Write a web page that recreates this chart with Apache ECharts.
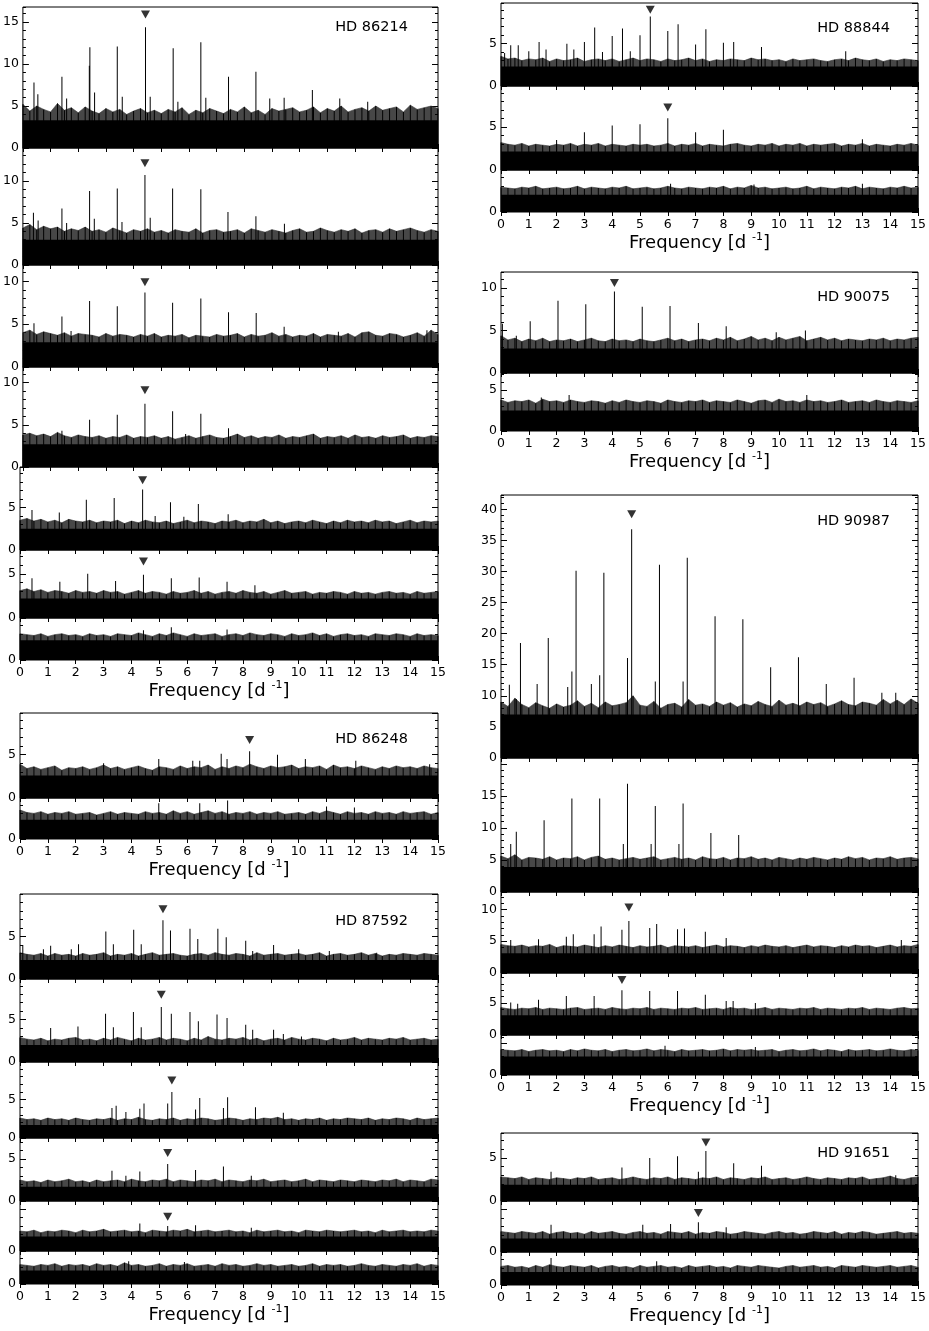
<!DOCTYPE html>
<html><head><meta charset="utf-8">
<script src="https://cdn.jsdelivr.net/npm/echarts@6/dist/echarts.min.js"></script>
<style>html,body{margin:0;padding:0;background:#fff}#c{width:929px;height:1331px}</style>
</head><body><div id="c"></div>
<script>
// ---------- data ----------
const FREQ_MIN = 0, FREQ_MAX = 15, NOISE_STEP = 0.25;
const STARS = ['HD 86214','HD 86248','HD 87592','HD 88844','HD 90075','HD 90987','HD 91651'];
const AXIS_TITLE = 'Frequency [d ';
const AXIS_TITLE_SUP = '-1';

// y-axis maxima per panel
const yMax86214 = [16.8, 13.9, 11.9, 11.85, 9.75, 7.7, 4.8];
const yMax86248 = [9.8, 4.8];
const yMax87592 = [10.0, 9.8, 9.9, 7.5, 6.0, 3.9];
const yMax88844 = [9.8, 9.8, 4.9];
const yMax90075 = [11.9, 7.1];
const yMax90987 = [42.3, 20.9, 12.75, 9.7, 6.3];
const yMax91651 = [7.9, 6.0, 3.9];

// solid noise floor per panel
const floor86214 = [3.3, 3.0, 2.9, 2.7, 2.5, 2.2, 2.25];
const floor86248 = [2.6, 2.25];
const floor87592 = [2.25, 2.0, 1.7, 1.7, 1.75, 1.6];
const floor88844 = [2.3, 2.15, 2.0];
const floor90075 = [2.9, 2.5];
const floor90987 = [7.0, 3.9, 3.1, 3.1, 2.9];
const floor91651 = [1.9, 1.6, 1.55];

// noise spike tops sampled every 0.25 d^-1
const noiseA1=[5.2,4.4,5.0,4.6,4.3,5.3,4.5,4.8,4.2,4.9,4.4,4.1,4.7,4.3,4.6,4.0,4.4,4.7,4.2,4.5,4.1,4.6,4.3,4.8,4.0,4.5,4.2,4.7,4.4,4.1,4.6,4.3,4.9,4.2,4.5,4.0,4.7,4.4,4.6,4.8,4.3,4.5,4.9,4.2,4.7,4.4,5.0,4.3,4.6,4.8,4.4,5.0,4.5,4.7,4.9,4.3,5.1,4.6,4.8,5.0,4.7];
const noiseA2=[4.4,4.8,4.2,4.6,4.3,4.5,4.0,4.3,4.1,4.5,4.0,4.2,3.9,4.4,4.1,3.8,4.2,4.0,4.3,3.9,4.1,3.8,4.2,4.0,3.9,4.3,3.8,4.1,4.2,3.9,4.0,4.2,3.8,4.3,4.1,3.9,4.2,4.0,3.8,4.1,4.3,3.9,4.0,4.4,4.1,3.9,4.2,4.0,4.3,3.8,4.1,4.2,3.9,4.3,4.0,4.2,4.4,4.1,3.9,4.2,4.0];
const noiseA3=[4.0,4.3,3.8,4.1,3.9,3.7,4.0,3.6,3.9,3.8,3.7,3.5,3.9,3.6,3.8,3.7,3.5,3.8,3.6,3.9,3.5,3.7,3.6,3.8,3.4,3.7,3.6,3.5,3.8,3.6,3.7,3.9,3.5,3.8,3.6,3.7,4.0,3.6,3.8,3.5,3.7,3.6,3.9,3.5,3.8,3.7,3.6,3.9,3.5,4.0,4.1,3.7,3.6,3.9,3.8,3.5,3.7,4.0,3.6,4.3,3.8];
const noiseA4=[3.8,4.0,3.7,3.9,3.6,4.1,3.7,3.5,3.8,3.6,3.5,3.7,3.4,3.6,3.5,3.8,3.4,3.6,3.5,3.7,3.4,3.6,3.3,3.5,3.7,3.4,3.6,3.8,3.5,3.4,3.6,3.9,3.5,3.7,3.4,3.6,3.5,3.8,3.4,3.6,3.5,3.7,3.9,3.4,3.6,3.5,3.7,3.4,3.8,3.5,3.6,3.4,3.7,3.5,3.6,3.8,3.4,3.6,3.5,3.7,3.6];
const noiseA5=[3.5,3.7,3.4,3.6,3.3,3.5,3.2,3.6,3.4,3.3,3.5,3.2,3.4,3.3,3.5,3.1,3.4,3.2,3.5,3.3,3.2,3.4,3.1,3.3,3.5,3.2,3.4,3.3,3.1,3.4,3.3,3.5,3.2,3.4,3.3,3.6,3.2,3.4,3.1,3.3,3.4,3.2,3.5,3.3,3.1,3.4,3.2,3.5,3.3,3.4,3.2,3.5,3.3,3.4,3.1,3.3,3.5,3.2,3.4,3.3,3.4];
const noiseA6=[3.1,3.3,3.0,3.2,2.9,3.1,3.0,2.8,3.1,2.9,3.0,2.8,3.1,2.9,3.0,2.7,2.9,3.1,2.8,3.0,2.9,2.7,3.0,2.8,2.9,3.1,2.8,3.0,2.7,2.9,3.0,2.8,3.1,2.9,2.8,3.0,2.7,2.9,3.1,2.8,2.9,3.0,2.7,2.9,2.8,3.0,2.9,2.7,3.0,2.8,2.9,2.7,2.9,3.0,2.8,2.9,2.7,3.0,2.8,2.9,3.0];
const noiseA7=[3.0,2.9,2.8,3.0,2.7,2.9,3.0,2.8,2.9,2.7,3.0,2.8,2.9,2.7,3.0,2.9,2.8,3.1,2.9,2.7,3.0,2.8,3.1,2.9,2.7,3.0,2.8,2.9,3.0,2.7,2.9,3.0,2.8,3.1,2.9,2.8,3.0,2.9,2.7,3.0,2.8,2.9,3.1,2.8,3.0,2.7,2.9,3.0,2.8,2.9,2.7,3.0,2.9,2.8,3.0,2.9,2.7,3.0,2.8,2.9,2.8];
const noiseB1=[3.9,3.4,3.6,3.3,3.5,3.7,3.2,3.5,3.4,3.6,3.3,3.5,3.8,3.4,3.6,3.3,3.5,3.7,3.4,3.2,3.6,3.5,3.3,3.7,3.4,3.6,3.5,3.8,3.3,3.6,3.4,3.7,3.5,3.9,3.6,3.4,3.7,3.5,3.6,3.8,3.4,3.6,3.5,3.7,3.3,3.8,3.5,3.6,3.4,3.7,3.5,3.3,3.6,3.4,3.7,3.5,3.6,3.4,3.7,3.5,3.4];
const noiseB2=[3.4,3.1,3.0,3.2,2.9,3.1,3.0,3.2,2.9,3.0,3.1,2.8,3.0,3.2,2.9,3.1,3.0,2.9,3.2,3.0,3.1,2.9,3.3,3.0,3.2,2.9,3.1,3.3,3.0,3.2,2.9,3.1,3.0,3.2,2.9,3.1,3.0,3.2,2.9,3.0,3.1,2.9,3.2,3.0,3.3,3.1,2.9,3.2,3.0,3.1,2.9,3.2,3.0,3.1,2.9,3.2,3.0,3.1,3.2,2.9,3.1];
const noiseC1=[3.1,2.9,2.8,3.0,2.7,3.0,2.8,2.9,2.7,3.0,2.8,2.9,3.1,2.7,2.9,2.8,3.0,2.7,2.9,3.1,2.8,2.9,3.0,2.8,2.7,2.9,3.0,2.8,3.1,2.9,2.8,3.0,2.9,2.7,3.1,2.8,2.9,3.0,2.8,2.9,3.0,2.8,2.9,3.1,2.7,2.9,3.0,2.8,2.9,3.1,2.8,3.0,2.7,2.9,2.8,3.0,2.9,2.8,3.0,2.9,2.8];
const noiseC2=[2.9,2.7,2.6,2.8,2.5,2.7,2.6,2.8,2.9,2.6,2.7,2.5,2.8,2.6,2.9,2.7,2.5,2.8,2.6,2.7,2.9,2.6,2.8,2.7,2.5,2.8,2.6,3.0,2.7,2.6,2.8,2.7,2.9,2.6,2.8,2.5,2.7,2.8,2.6,2.9,2.7,2.6,2.8,2.7,2.5,2.8,2.6,2.7,2.9,2.6,2.8,2.7,2.6,2.8,2.7,2.9,2.6,2.7,2.8,2.6,2.7];
const noiseC3=[2.6,2.4,2.5,2.3,2.6,2.4,2.5,2.3,2.6,2.4,2.3,2.5,2.4,2.6,2.3,2.5,2.4,2.7,2.4,2.3,2.5,2.4,2.6,2.3,2.5,2.4,2.6,2.5,2.3,2.4,2.6,2.5,2.3,2.5,2.4,2.6,2.5,2.7,2.4,2.5,2.3,2.5,2.4,2.6,2.3,2.5,2.4,2.6,2.5,2.4,2.6,2.3,2.5,2.4,2.6,2.5,2.3,2.6,2.4,2.5,2.6];
const noiseC4=[2.5,2.3,2.4,2.2,2.5,2.3,2.4,2.6,2.3,2.4,2.2,2.5,2.3,2.4,2.5,2.3,2.6,2.4,2.3,2.5,2.4,2.6,2.3,2.5,2.4,2.3,2.5,2.4,2.6,2.3,2.5,2.4,2.3,2.5,2.4,2.6,2.3,2.4,2.5,2.3,2.4,2.6,2.3,2.5,2.4,2.3,2.5,2.4,2.3,2.5,2.4,2.3,2.5,2.4,2.6,2.3,2.5,2.4,2.3,2.6,2.5];
const noiseC5=[2.4,2.3,2.5,2.2,2.4,2.3,2.5,2.4,2.2,2.5,2.3,2.4,2.6,2.3,2.4,2.5,2.3,2.4,2.2,2.5,2.4,2.3,2.5,2.4,2.6,2.3,2.4,2.5,2.3,2.4,2.5,2.3,2.4,2.2,2.5,2.3,2.4,2.5,2.3,2.4,2.2,2.5,2.4,2.3,2.5,2.4,2.3,2.4,2.5,2.3,2.4,2.2,2.5,2.3,2.4,2.5,2.3,2.4,2.3,2.5,2.4];
const noiseC6=[2.3,2.2,2.1,2.3,2.2,2.4,2.1,2.3,2.2,2.3,2.1,2.4,2.2,2.3,2.1,2.5,2.2,2.3,2.1,2.2,2.4,2.1,2.3,2.2,2.4,2.1,2.2,2.3,2.1,2.4,2.2,2.3,2.1,2.2,2.4,2.2,2.3,2.1,2.2,2.3,2.1,2.2,2.4,2.1,2.3,2.2,2.3,2.1,2.2,2.4,2.2,2.1,2.3,2.2,2.1,2.3,2.2,2.4,2.1,2.3,2.2];
const noiseD1=[3.5,3.2,3.3,3.0,3.2,3.1,3.3,2.9,3.2,3.0,3.1,3.3,2.9,3.1,3.2,3.0,3.2,2.9,3.1,3.3,3.0,3.2,3.1,2.9,3.2,3.0,3.1,3.3,3.0,3.2,2.9,3.1,3.0,3.2,3.1,3.0,3.3,3.1,3.2,3.0,3.1,2.9,3.2,3.0,3.1,3.2,3.0,2.9,3.1,3.2,3.0,3.3,3.1,3.0,3.2,2.9,3.1,3.0,3.2,3.1,3.0];
const noiseD2=[3.2,3.0,2.9,3.1,2.8,3.0,2.9,2.8,3.0,2.9,3.1,2.8,3.0,2.9,3.1,2.8,3.0,2.9,2.8,3.0,2.9,3.0,2.8,2.9,3.1,2.8,3.0,2.9,3.1,2.8,3.0,2.9,2.8,3.0,3.1,2.9,2.8,3.0,2.9,3.1,2.8,3.0,2.9,3.1,2.8,3.0,2.9,3.0,3.1,2.8,3.0,2.9,3.1,2.8,3.0,2.9,2.8,3.0,2.9,3.1,2.9];
const noiseD3=[2.9,2.8,2.7,2.9,2.8,3.0,2.7,2.8,2.9,2.7,2.8,3.0,2.7,2.9,2.8,2.7,2.9,2.8,3.0,2.7,2.8,2.9,2.7,2.8,3.0,2.8,2.7,2.9,2.8,2.7,2.9,2.8,3.0,2.7,2.9,2.8,3.1,2.8,2.9,2.7,2.8,2.9,2.7,2.8,3.0,2.7,2.9,2.8,2.7,2.9,2.8,3.0,2.7,2.9,2.8,2.7,2.9,2.8,3.0,2.8,2.9];
const noiseE1=[4.4,3.9,4.1,3.7,4.0,3.8,4.1,3.7,3.9,3.8,4.0,3.7,3.9,4.1,3.8,3.7,4.0,3.8,3.9,3.7,4.0,3.8,3.7,3.9,4.1,3.8,4.0,3.7,3.9,4.0,3.8,4.1,3.9,4.2,3.8,4.0,4.3,3.9,4.1,3.8,4.2,3.9,4.1,4.3,3.8,4.0,4.2,3.9,4.1,3.8,4.0,3.9,3.8,4.0,3.9,4.1,3.8,4.0,3.9,4.1,4.2];
const noiseE2=[3.8,3.5,3.7,3.6,3.8,3.4,3.9,3.6,3.7,3.5,3.8,3.6,3.5,3.7,3.6,3.4,3.7,3.5,3.8,3.6,3.5,3.7,3.6,3.4,3.8,3.6,3.5,3.7,3.6,3.8,3.5,3.7,3.6,3.5,3.8,3.6,3.4,3.7,3.8,3.5,3.9,3.6,3.7,3.5,3.8,3.6,3.7,3.5,3.6,3.8,3.5,3.6,3.7,3.5,3.8,3.6,3.5,3.7,3.6,3.5,3.7];
const noiseF1=[9.0,8.3,9.6,8.6,8.1,8.9,8.4,8.0,8.7,8.2,8.5,9.2,8.3,8.8,8.1,9.0,8.4,8.6,8.9,10.0,8.5,8.3,9.1,8.0,8.6,8.8,8.2,9.4,8.5,8.7,8.3,9.0,8.5,8.9,8.2,8.7,8.4,9.1,8.6,8.3,9.3,8.5,8.8,8.4,9.0,8.6,8.9,8.3,8.7,9.2,8.6,8.4,9.0,8.8,8.5,9.4,8.7,9.3,8.6,9.5,8.8];
const noiseF2=[5.6,5.2,5.8,5.0,5.4,5.3,5.1,5.5,5.0,5.3,5.2,5.5,5.0,5.4,5.6,5.1,5.3,5.0,5.2,5.4,5.1,5.3,5.5,5.0,5.2,5.4,5.1,5.3,5.0,5.5,5.2,5.1,5.4,5.0,5.3,5.2,5.5,5.1,5.3,5.0,5.4,5.2,5.0,5.3,5.1,5.4,5.2,5.0,5.3,5.1,5.5,5.2,5.4,5.0,5.3,5.2,5.5,5.1,5.3,5.4,5.2];
const noiseF3=[4.5,4.3,4.2,4.4,4.1,4.3,4.2,4.5,4.0,4.3,4.2,4.1,4.4,4.2,4.0,4.3,4.1,4.4,4.2,4.0,4.3,4.1,4.2,4.4,4.0,4.3,4.2,4.1,4.3,4.0,4.2,4.4,4.1,4.3,4.2,4.0,4.3,4.1,4.4,4.2,4.1,4.3,4.0,4.2,4.4,4.1,4.3,4.2,4.0,4.3,4.1,4.4,4.2,4.3,4.0,4.2,4.4,4.1,4.3,4.2,4.5];
const noiseF4=[4.3,4.1,4.0,4.2,4.1,4.3,4.0,4.2,4.1,4.0,4.2,4.3,4.0,4.1,4.2,4.0,4.3,4.1,4.0,4.2,4.1,4.3,4.0,4.2,4.1,4.0,4.2,4.1,4.3,4.0,4.1,4.2,4.0,4.3,4.1,4.2,4.0,4.1,4.3,4.0,4.2,4.1,4.0,4.2,4.1,4.3,4.0,4.2,4.1,4.0,4.2,4.1,4.3,4.0,4.2,4.1,4.0,4.2,4.3,4.1,4.2];
const noiseF5=[4.0,3.9,3.8,4.0,3.7,3.9,4.0,3.8,3.9,3.7,4.0,3.8,4.1,3.9,3.8,4.0,3.7,3.9,4.0,3.8,3.9,4.1,3.8,4.0,3.9,3.7,4.0,3.8,3.9,4.0,3.8,3.9,4.1,3.8,4.0,3.9,4.0,3.8,3.9,4.0,3.7,3.9,4.0,3.8,3.9,4.1,3.8,4.0,3.9,3.7,4.0,3.8,3.9,4.0,3.8,3.9,4.1,3.9,3.8,4.0,3.9];
const noiseG1=[2.8,2.7,2.6,2.8,2.5,2.7,2.6,2.5,2.7,2.6,2.5,2.7,2.6,2.8,2.5,2.6,2.7,2.5,2.6,2.8,2.6,2.5,2.7,2.6,2.8,2.5,2.7,2.6,2.5,2.7,2.6,2.8,2.5,2.7,2.6,2.5,2.7,2.6,2.8,2.5,2.6,2.7,2.5,2.6,2.8,2.6,2.5,2.7,2.6,2.5,2.7,2.6,2.8,2.5,2.6,2.7,2.9,2.6,2.5,2.7,2.8];
const noiseG2=[2.4,2.3,2.2,2.4,2.3,2.2,2.4,2.1,2.3,2.4,2.2,2.3,2.1,2.4,2.2,2.3,2.4,2.2,2.1,2.3,2.4,2.2,2.3,2.1,2.4,2.3,2.2,2.4,2.1,2.3,2.2,2.4,2.3,2.1,2.2,2.4,2.3,2.2,2.1,2.3,2.4,2.2,2.3,2.1,2.2,2.4,2.3,2.2,2.4,2.1,2.3,2.2,2.4,2.3,2.1,2.2,2.3,2.4,2.2,2.3,2.2];
const noiseG3=[2.2,2.3,2.1,2.2,2.0,2.3,2.1,2.4,2.2,2.1,2.3,2.2,2.1,2.3,2.0,2.2,2.3,2.1,2.2,2.0,2.3,2.1,2.2,2.3,2.1,2.2,2.0,2.3,2.1,2.2,2.3,2.1,2.2,2.0,2.3,2.2,2.1,2.3,2.2,2.1,2.0,2.2,2.3,2.1,2.2,2.3,2.1,2.2,2.0,2.3,2.2,2.1,2.3,2.2,2.1,2.2,2.3,2.1,2.2,2.3,2.1];

// significant peaks [frequency, amplitude]
const peaksA1=[[0.40,7.8],[0.54,6.4],[1.41,8.5],[1.58,5.9],[2.40,9.8],[2.42,12.0],[2.59,6.6],[3.41,12.1],[3.59,6.1],[4.43,14.4],[4.60,6.1],[5.43,11.9],[5.60,5.5],[6.43,12.6],[6.61,6.0],[7.43,8.5],[8.42,9.1],[8.92,5.9],[9.44,6.0],[10.46,6.9],[11.45,5.9],[12.46,5.5]];
const peaksA2=[[0.38,6.2],[0.55,5.3],[1.41,6.7],[1.58,5.0],[2.41,8.8],[2.58,5.5],[3.41,9.1],[3.58,5.1],[4.41,10.7],[4.60,5.6],[5.41,9.1],[6.43,9.0],[7.41,6.3],[8.42,5.8],[9.45,4.9]];
const peaksA3=[[0.40,5.1],[1.41,5.9],[1.74,4.2],[2.41,7.7],[3.41,7.1],[4.41,8.7],[5.41,7.5],[6.43,8.0],[7.43,6.4],[8.43,6.3],[9.44,4.7],[11.4,4.1],[14.6,4.3]];
const peaksA4=[[1.41,4.3],[2.41,5.6],[3.41,6.2],[4.41,7.5],[5.41,6.6],[5.88,3.9],[6.43,6.3],[7.43,4.6]];
const peaksA5=[[0.43,4.7],[1.41,4.4],[2.38,5.9],[3.38,6.1],[4.40,7.1],[4.85,4.0],[5.40,5.6],[5.88,3.9],[6.40,5.4],[7.47,4.2]];
const peaksA6=[[0.43,4.5],[1.43,4.1],[2.43,5.0],[3.43,4.2],[4.43,4.9],[5.43,4.5],[6.43,4.6],[7.43,4.1],[8.43,3.7]];
const peaksA7=[[4.43,3.4],[5.43,3.75],[7.43,3.5]];
const peaksB1=[[3.0,4.0],[4.98,4.5],[6.2,4.3],[6.45,4.3],[7.22,5.1],[7.43,4.5],[8.24,5.4],[9.24,5.0],[10.24,4.5],[12.05,4.3],[14.7,3.9]];
const peaksB2=[[4.98,4.2],[6.45,4.2],[7.45,4.5],[11.0,3.8],[12.0,3.7]];
const peaksC1=[[0.1,4.0],[0.84,3.5],[1.1,3.9],[1.84,3.5],[2.1,4.1],[3.08,5.6],[3.35,4.1],[4.08,5.8],[4.35,4.1],[5.13,6.9],[5.4,5.7],[6.1,5.9],[6.38,4.7],[7.1,5.9],[7.4,4.9],[8.1,4.5],[8.35,3.3],[9.1,4.0],[10.0,3.5],[11.1,3.3],[12.8,3.1]];
const peaksC2=[[1.1,4.0],[2.08,4.2],[3.07,5.7],[3.35,4.1],[4.07,5.9],[4.35,4.1],[5.07,6.5],[5.43,5.7],[6.1,5.9],[6.4,4.8],[7.07,5.6],[7.43,5.2],[8.1,4.4],[8.35,3.8],[9.1,3.8],[9.45,3.3],[10.1,3.0]];
const peaksC3=[[3.3,3.9],[3.45,4.2],[3.8,3.4],[4.3,3.8],[4.45,4.5],[5.3,4.5],[5.45,6.0],[6.3,3.7],[6.45,5.2],[7.3,3.9],[7.45,5.3],[8.45,4.0],[9.45,3.3]];
const peaksC4=[[3.3,3.6],[3.8,3.0],[4.3,3.5],[5.3,4.4],[6.3,3.7],[7.3,4.1],[8.3,3.0]];
const peaksC5=[[4.3,3.3],[5.3,3.0],[6.3,3.1],[8.3,2.8]];
const peaksC6=[[3.9,2.7],[5.9,2.6]];
const peaksD1=[[0.13,3.9],[0.35,4.8],[0.62,4.8],[1.0,4.1],[1.37,5.2],[1.62,4.3],[2.37,5.0],[2.62,4.3],[3.0,5.2],[3.37,6.9],[3.65,4.0],[4.0,5.9],[4.37,6.8],[4.65,4.1],[5.0,6.0],[5.37,8.2],[6.0,6.5],[6.37,7.3],[7.0,4.9],[7.37,6.7],[8.0,5.1],[8.37,5.2],[9.37,4.6],[12.4,4.1]];
const peaksD2=[[2.0,3.5],[3.0,4.4],[4.0,5.2],[5.0,5.35],[6.0,6.05],[7.0,4.4],[8.0,4.7],[13.0,3.6]];
const peaksD3=[[6.1,3.3],[9.1,3.2],[13.0,3.3]];
const peaksE1=[[0.05,5.8],[0.55,4.4],[1.05,6.1],[2.05,8.5],[3.05,8.1],[4.08,9.6],[5.08,7.8],[6.08,7.9],[7.1,5.9],[8.1,5.5],[9.9,4.8],[10.95,5.0]];
const peaksE2=[[1.45,4.1],[2.45,4.4],[11.0,4.4]];
const peaksF1=[[0.3,11.8],[0.55,9.5],[0.7,18.5],[1.3,11.9],[1.7,19.3],[2.4,11.4],[2.55,13.9],[2.7,30.1],[3.25,11.9],[3.55,13.3],[3.7,29.8],[4.55,16.1],[4.7,36.8],[5.55,12.3],[5.7,31.1],[6.55,12.3],[6.7,32.2],[7.7,22.8],[8.7,22.3],[9.7,14.6],[10.7,16.2],[11.7,11.9],[12.7,12.9],[13.7,10.5],[14.2,10.5]];
const peaksF2=[[0.35,7.5],[0.55,9.4],[1.55,11.2],[2.55,14.6],[3.55,14.6],[4.4,7.5],[4.55,16.9],[5.4,7.5],[5.55,13.4],[6.4,7.5],[6.55,13.8],[7.55,9.2],[8.55,8.9]];
const peaksF3=[[0.35,5.2],[1.35,5.3],[2.35,5.7],[2.6,6.1],[3.35,6.1],[3.6,7.3],[4.35,6.8],[4.6,8.2],[5.35,7.1],[5.6,7.7],[6.35,6.9],[6.6,7.0],[7.35,6.5],[8.1,5.5],[14.4,5.2]];
const peaksF4=[[0.35,5.1],[0.6,4.9],[1.35,5.5],[2.35,6.1],[3.35,6.1],[4.35,7.0],[5.35,6.9],[6.35,6.9],[7.35,6.3],[8.1,5.3],[8.35,5.3],[9.15,5.0]];
const peaksF5=[[5.9,4.6],[9.15,4.4]];
const peaksG1=[[1.8,3.4],[4.35,3.9],[5.35,5.0],[6.35,5.2],[7.1,3.4],[7.37,5.8],[8.37,4.4],[9.37,4.1],[14.2,3.0]];
const peaksG2=[[1.8,3.2],[5.1,3.2],[6.1,3.3],[7.1,3.5],[8.1,2.9]];
const peaksG3=[[1.8,3.2],[5.6,2.8]];

// marked frequency (triangle) [frequency, height]
const tri86214=[[4.43,15.9],[4.41,12.1],[4.41,9.9],[4.41,9.1],[4.40,8.2],[4.43,6.4],null];
const tri86248=[[8.24,6.7],null];
const tri87592=[[5.13,8.2],[5.07,7.95],[5.45,7.5],[5.3,5.7],[5.3,4.1],null];
const tri88844=[[5.37,9.0],[6.0,7.3],null];
const tri90075=[[4.08,10.6],null];
const tri90987=[[4.7,39.2],null,[4.6,10.3],[4.35,8.6],null];
const tri91651=[[7.37,6.8],[7.1,4.6],null];

// ---------- layout (pixels) ----------
const COL_X = [[20, 438], [501, 918]];
const LAYOUT = [
  {col:0, edges:[7,148,265,367,467,550,618,660], labelY:27, yMax:yMax86214, floor:floor86214, noise:[noiseA1,noiseA2,noiseA3,noiseA4,noiseA5,noiseA6,noiseA7], peaks:[peaksA1,peaksA2,peaksA3,peaksA4,peaksA5,peaksA6,peaksA7], tri:tri86214},
  {col:0, edges:[713,798,839], labelY:739, yMax:yMax86248, floor:floor86248, noise:[noiseB1,noiseB2], peaks:[peaksB1,peaksB2], tri:tri86248},
  {col:0, edges:[894,979,1062,1138,1201,1251,1284], labelY:921, yMax:yMax87592, floor:floor87592, noise:[noiseC1,noiseC2,noiseC3,noiseC4,noiseC5,noiseC6], peaks:[peaksC1,peaksC2,peaksC3,peaksC4,peaksC5,peaksC6], tri:tri87592},
  {col:1, edges:[3,86,170,212], labelY:28, yMax:yMax88844, floor:floor88844, noise:[noiseD1,noiseD2,noiseD3], peaks:[peaksD1,peaksD2,peaksD3], tri:tri88844},
  {col:1, edges:[272,373,431], labelY:297, yMax:yMax90075, floor:floor90075, noise:[noiseE1,noiseE2], peaks:[peaksE1,peaksE2], tri:tri90075},
  {col:1, edges:[495,758,892,973,1035,1075], labelY:521, yMax:yMax90987, floor:floor90987, noise:[noiseF1,noiseF2,noiseF3,noiseF4,noiseF5], peaks:[peaksF1,peaksF2,peaksF3,peaksF4,peaksF5], tri:tri90987},
  {col:1, edges:[1133,1201,1252,1285], labelY:1153, yMax:yMax91651, floor:floor91651, noise:[noiseG1,noiseG2,noiseG3], peaks:[peaksG1,peaksG2,peaksG3], tri:tri91651}
];

const FONT = 'DejaVu Sans';
const grids=[], xAxes=[], yAxes=[], series=[], graphics=[];

LAYOUT.forEach((g, gi) => {
  const [xl, xr] = COL_X[g.col];
  const nP = g.edges.length - 1;
  for (let p = 0; p < nP; p++) {
    const top = g.edges[p], bottom = g.edges[p+1];
    const h = bottom - top;
    const gIdx = grids.length;
    const isLast = p === nP - 1;
    grids.push({left:xl, top:top, width:xr-xl, height:h, show:true,
      borderColor:'#000', borderWidth:1, backgroundColor:'rgba(0,0,0,0)'});
    const xCommon = {gridIndex:gIdx, type:'value', min:FREQ_MIN, max:FREQ_MAX, interval:1,
      axisLine:{show:false}, splitLine:{show:false},
      axisTick:{show:true, inside:true, length:4, lineStyle:{color:'#000', width:1}}};
    xAxes.push(Object.assign({}, xCommon, {position:'bottom',
      axisLabel:{show:isLast, margin:6, color:'#000', fontSize:12.5, fontFamily:FONT}}));
    xAxes.push(Object.assign({}, xCommon, {position:'top', axisLabel:{show:false}}));
    const M = g.yMax[p];
    const yBase = {gridIndex:gIdx, type:'value', min:0, max:M, axisLine:{show:false}, splitLine:{show:false}};
    const yi = yAxes.length;
    yAxes.push(Object.assign({}, yBase, {position:'left', interval:5,
      axisTick:{show:true, inside:true, length:6, lineStyle:{color:'#000'}},
      axisLabel:{show:true, margin:4, showMaxLabel:false, color:'#000', fontSize:12.5, fontFamily:FONT,
        formatter: v => ((M - v) / M * h < 9 ? '' : String(v))}}));
    yAxes.push(Object.assign({}, yBase, {position:'left', interval:1,
      axisTick:{show:true, inside:true, length:3, lineStyle:{color:'#000'}}, axisLabel:{show:false}}));
    yAxes.push(Object.assign({}, yBase, {position:'right', interval:5,
      axisTick:{show:true, inside:true, length:6, lineStyle:{color:'#000'}}, axisLabel:{show:false}}));
    yAxes.push(Object.assign({}, yBase, {position:'right', interval:1,
      axisTick:{show:true, inside:true, length:3, lineStyle:{color:'#000'}}, axisLabel:{show:false}}));

    const xi = 2*gIdx;
    const F = g.floor[p];
    const noisePts = g.noise[p].map((v,i) => [i*NOISE_STEP, v]);
    // dark fringe under the noise tops
    series.push({type:'line', xAxisIndex:xi, yAxisIndex:yi, data:noisePts,
      symbol:'none', lineStyle:{width:0.6, color:'#333'}, areaStyle:{color:'#000', opacity:0.72}, silent:true, z:1});
    // solid floor
    series.push({type:'line', xAxisIndex:xi, yAxisIndex:yi, data:[[FREQ_MIN,F],[FREQ_MAX,F]],
      symbol:'none', lineStyle:{width:0}, areaStyle:{color:'#000', opacity:1}, silent:true, z:2});
    // noise spikes and peaks
    series.push({type:'bar', xAxisIndex:xi, yAxisIndex:yi, data:noisePts.concat(g.peaks[p]),
      barWidth:1, itemStyle:{color:'#000'}, silent:true, z:3, clip:true});
    if (g.tri[p]) {
      series.push({type:'scatter', xAxisIndex:xi, yAxisIndex:yi, data:[g.tri[p]],
        symbol:'triangle', symbolRotate:180, symbolSize:[9,8], itemStyle:{color:'#000'}, silent:true, z:4});
    }
  }
  graphics.push({type:'text', x: g.col ? 890 : 408, y: g.labelY,
    style:{text:STARS[gi], fill:'#000', font:'14.5px "'+FONT+'"', align:'right', verticalAlign:'middle'}});
  const bottom = g.edges[nP];
  graphics.push({type:'text', x:(xl+xr)/2 - 10, y: bottom + 31,
    style:{text:'{a|'+AXIS_TITLE+'}{b|'+AXIS_TITLE_SUP+'}{a|]}', fill:'#000', align:'center', verticalAlign:'middle',
      rich:{a:{fontSize:18, fontFamily:FONT, lineHeight:22, fill:'#000'},
            b:{fontSize:11, fontFamily:FONT, lineHeight:14, verticalAlign:'top', fill:'#000'}}}});
});

const chart = echarts.init(document.getElementById('c'), null, {renderer:'canvas'});
chart.setOption({animation:false, grid:grids, xAxis:xAxes, yAxis:yAxes, series:series, graphic:graphics});
</script></body></html>
